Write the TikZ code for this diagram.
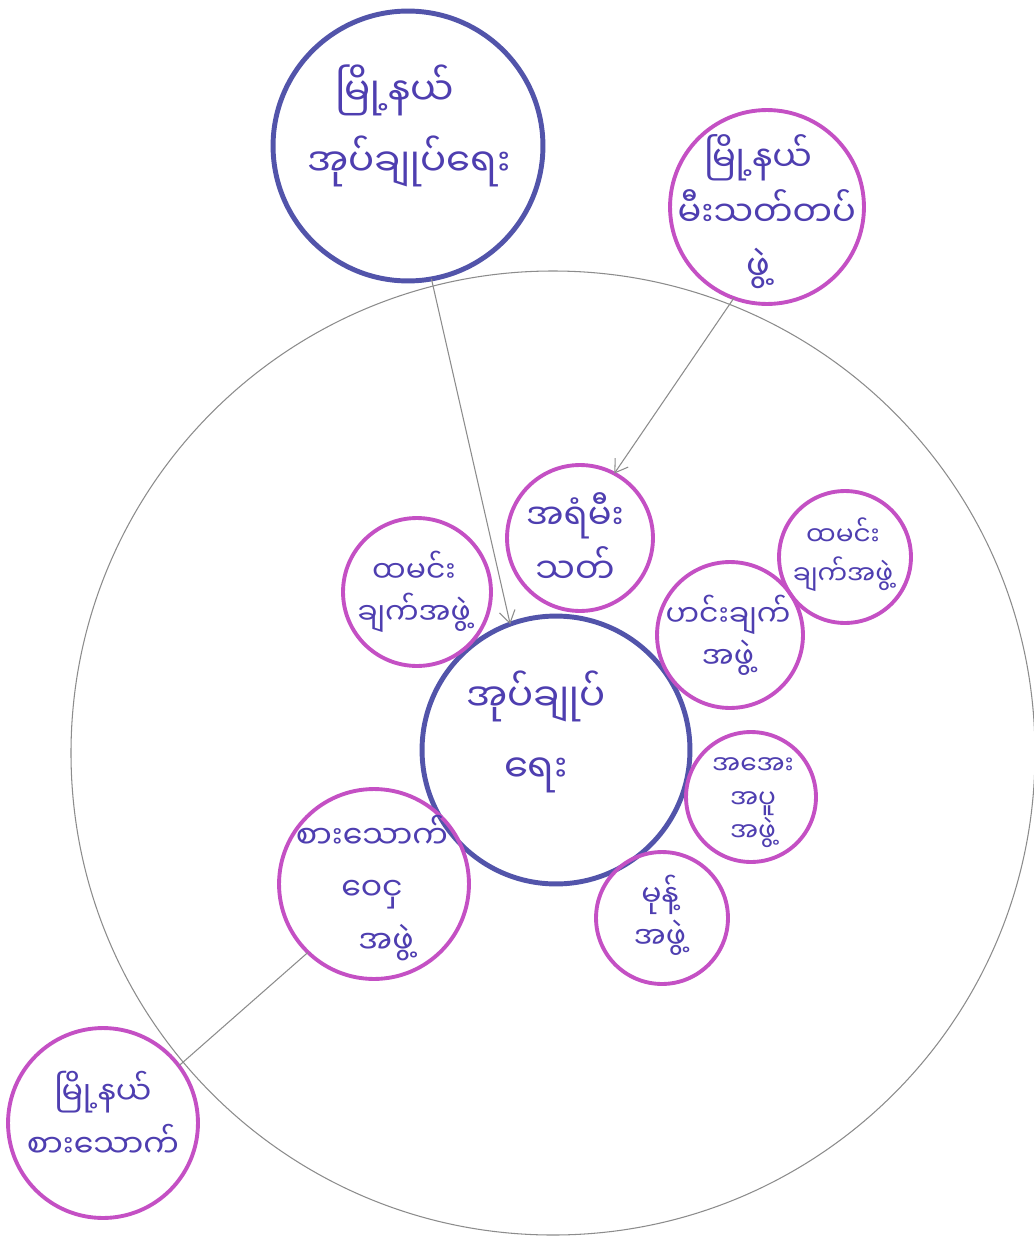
\documentclass[tikz,border=0pt]{standalone}
\usepackage{fontspec}
\newfontfamily\mya[Script=Myanmar]{Noto Sans Myanmar UI}
\usetikzlibrary{arrows.meta}
\definecolor{bluec}{RGB}{82,84,170}
\definecolor{pinkc}{RGB}{196,80,196}
\definecolor{inkc}{RGB}{78,62,176}
\definecolor{greyc}{RGB}{140,140,140}
\tikzset{
  bc/.style={circle, draw=bluec, line width=2.8pt, minimum size=#1*0.04cm, inner sep=0pt, outer sep=0pt},
  pc/.style={circle, draw=pinkc, line width=2.2pt, minimum size=#1*0.04cm, inner sep=0pt, outer sep=0pt},
  txt/.style={text=inkc, align=center, font=\mya\fontsize{22}{40}\selectfont, inner sep=0pt},
  mtxt/.style={text=inkc, align=center, font=\mya\fontsize{20}{31}\selectfont, inner sep=0pt},
  ftxt/.style={text=inkc, align=center, font=\mya\fontsize{18}{30}\selectfont, inner sep=0pt},
  stxt/.style={text=inkc, align=center, font=\mya\fontsize{17}{24}\selectfont, inner sep=0pt},
  rtxt/.style={text=inkc, align=center, font=\mya\fontsize{15}{22}\selectfont, inner sep=0pt},
  xtxt/.style={text=inkc, align=center, font=\mya\fontsize{15}{19}\selectfont, inner sep=0pt},
  conn/.style={draw=greyc, line width=0.6pt},
  arr/.style={conn, -{Straight Barb[length=7pt,width=9pt]}}
}
\begin{document}
\begin{tikzpicture}[x=0.02cm,y=-0.02cm]
\fill[white] (0,0) rectangle (1034,1244);
\useasboundingbox (0,0) rectangle (1034,1244);
% big outer circle
\node[circle, draw=greyc, line width=0.6pt, minimum size=964*0.02cm, inner sep=0pt] (outer) at (553,753) {};
% circles
\node[bc=135] (tadmin) at (408,146) {};
\node[pc=97] (tfire) at (767,207) {};
\node[bc=134] (cadmin) at (556,750) {};
\node[pc=73] (aux) at (580,538) {};
\node[pc=74] (riceL) at (417,592) {};
\node[pc=66] (riceR) at (845,557) {};
\node[pc=73] (curry) at (730,635) {};
\node[pc=65] (drink) at (751,797) {};
\node[pc=66] (snack) at (662,918) {};
\node[pc=95] (food) at (374,884) {};
\node[pc=95] (tfood) at (103,1123) {};
% texts
\node[txt] (tadminT) at (395,126) {မြို့နယ်\\\hspace*{16pt}အုပ်ချုပ်ရေး};
\node[mtxt] (tfireT) at (758,212) {မြို့နယ်\\\hspace*{10pt}မီးသတ်တပ်\\ဖွဲ့};
\node[txt] (cadminT) at (536,732) {အုပ်ချုပ်\\ရေး};
\node[mtxt] (auxT) at (575,538) {အရံမီး\\သတ်};
\node[stxt] (riceLT) at (414,592) {ထမင်း\\ချက်အဖွဲ့};
\node[rtxt] (riceRT) at (843,555) {ထမင်း\\ချက်အဖွဲ့};
\node[stxt] (curryT) at (728,635) {ဟင်းချက်\\အဖွဲ့};
\node[xtxt] (drinkT) at (753,803) {အအေး\\အပူ\\အဖွဲ့};
\node[stxt] (snackT) at (660,915) {မုန့်\\အဖွဲ့};
\node[ftxt] (foodT) at (372,888) {စားသောက်\\ဝေငှ\\\hspace*{16pt}အဖွဲ့};
\node[ftxt] (tfoodT) at (103,1114) {မြို့နယ်\\စားသောက်};
% connectors
\draw[arr] (tadmin.280) -- (cadmin.110);
\draw[arr] (tfire.250) -- (aux.62);
\draw[conn] (food.226) -- (tfood.37);
\end{tikzpicture}
\end{document}
